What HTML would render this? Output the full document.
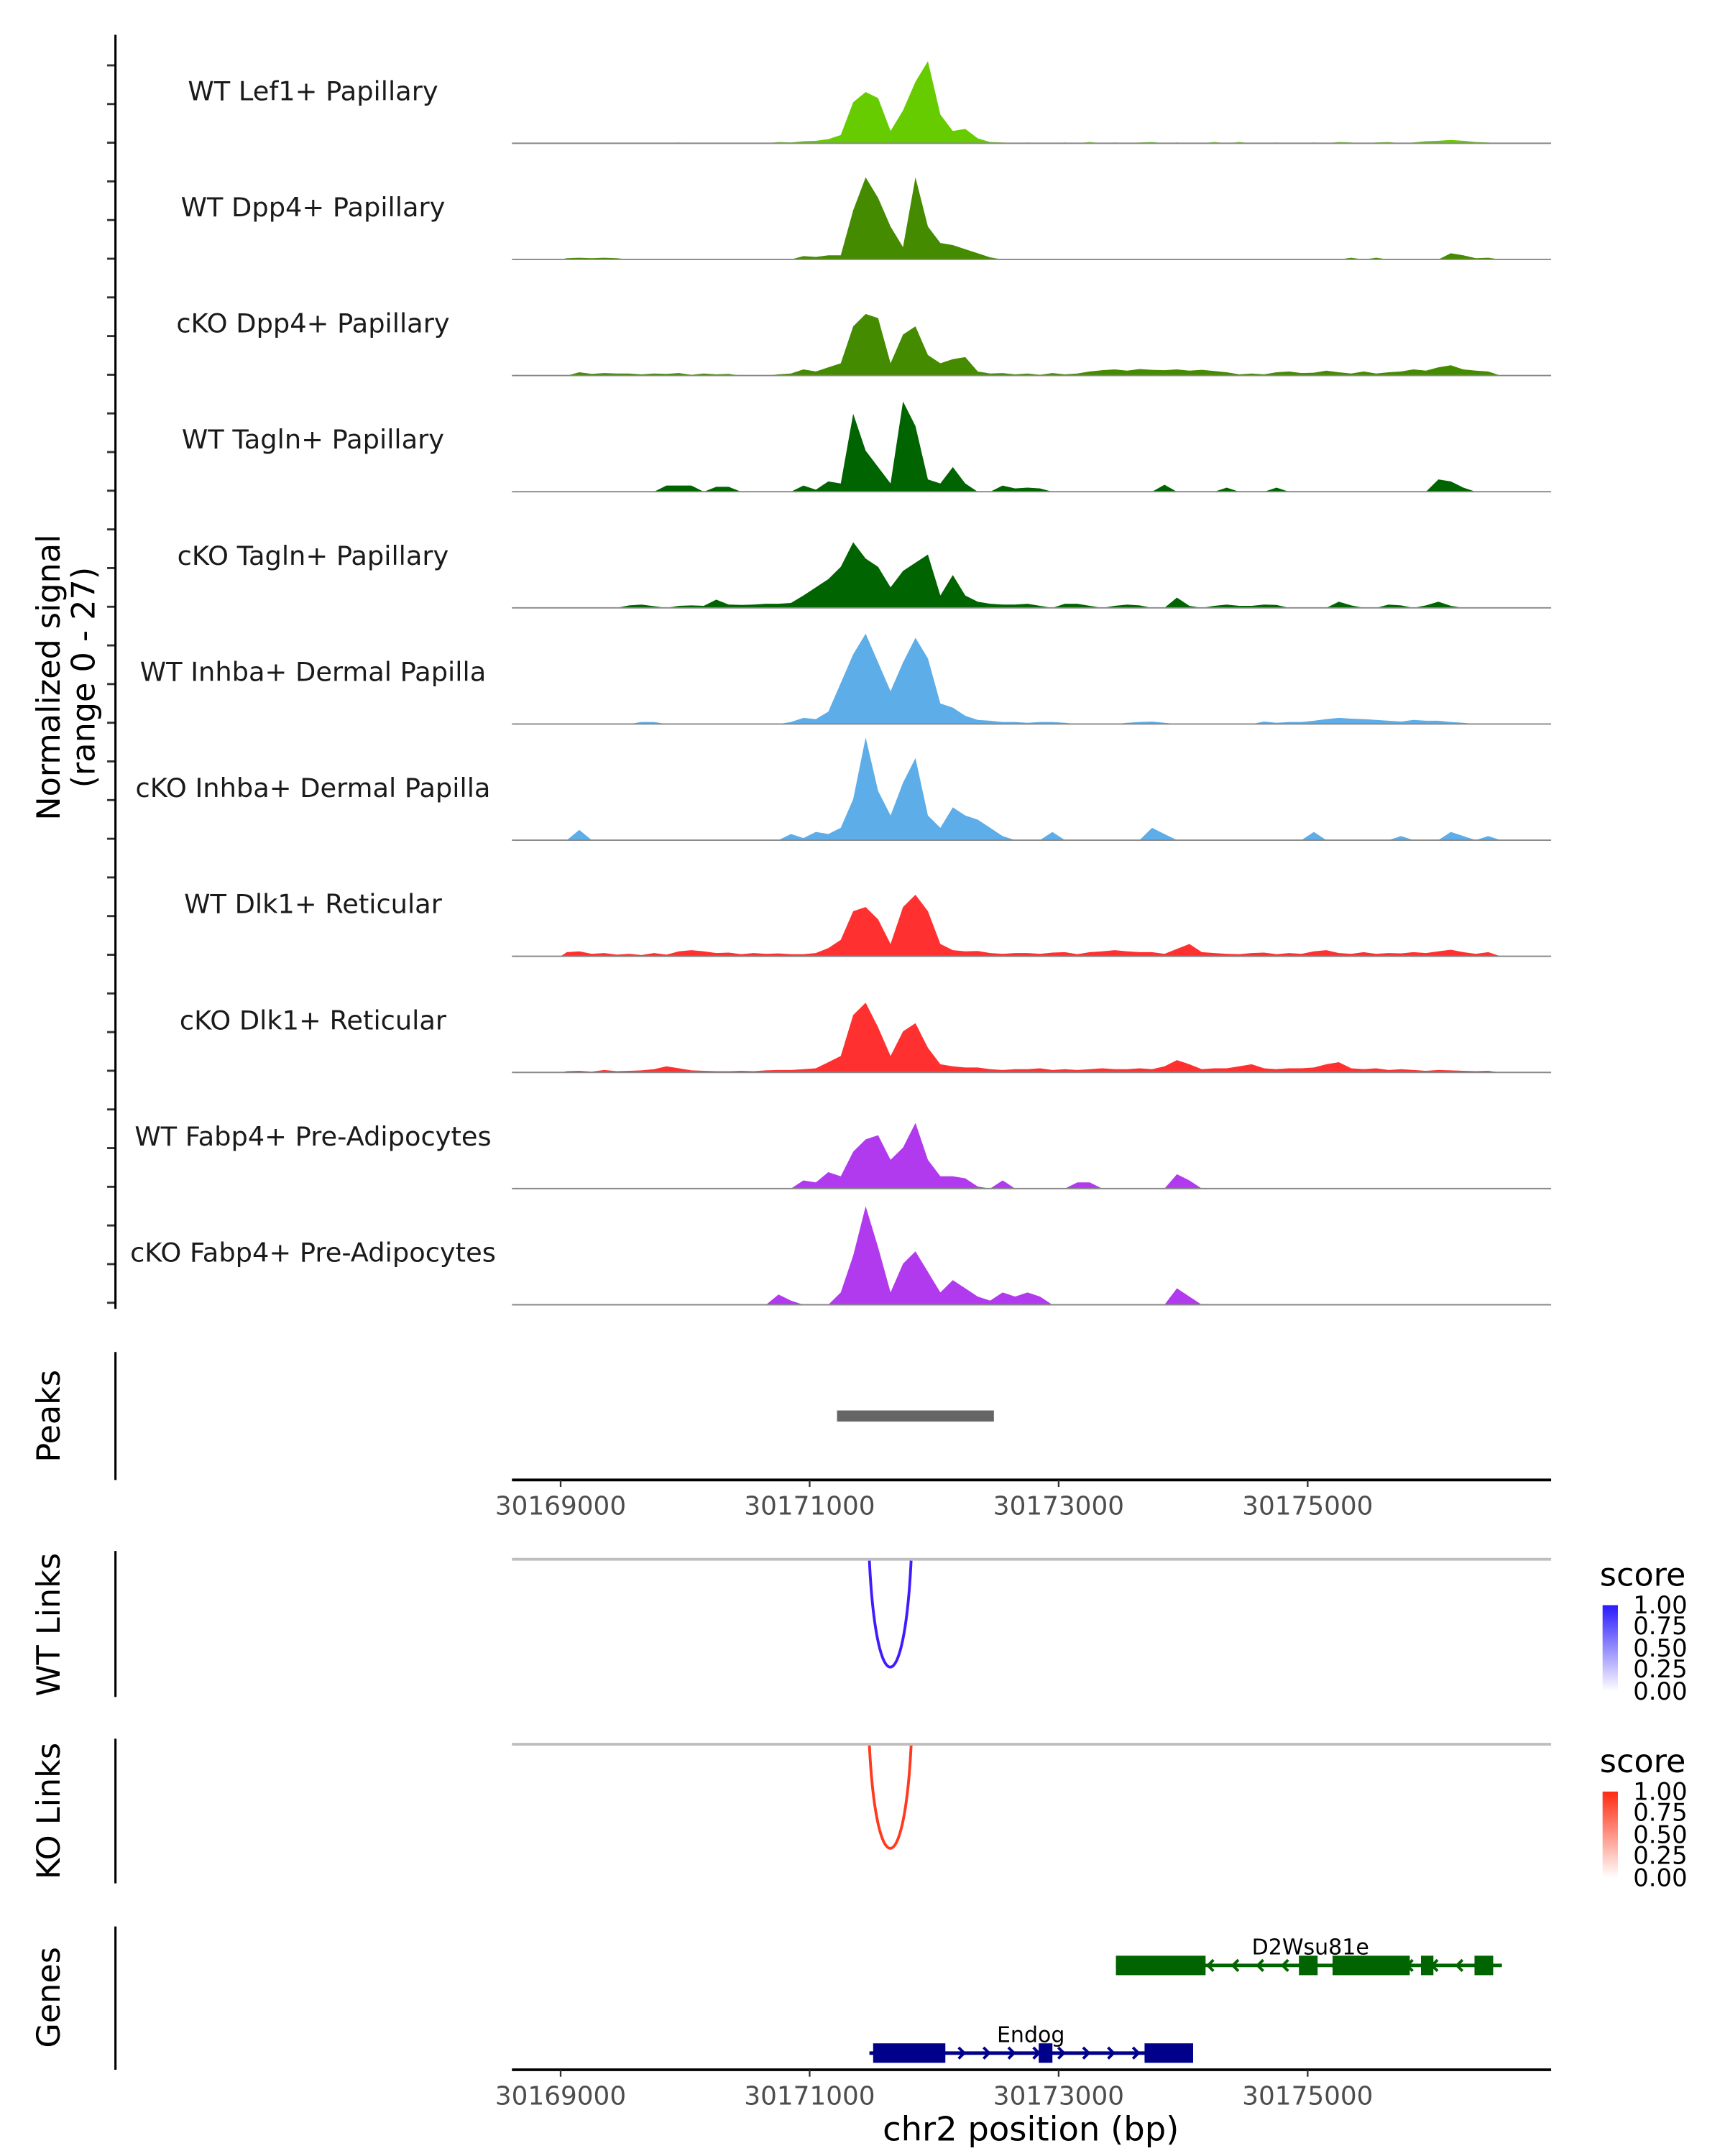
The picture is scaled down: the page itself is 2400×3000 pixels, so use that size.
<!DOCTYPE html>
<html><head><meta charset="utf-8"><style>
html,body{margin:0;padding:0;background:#fff}
svg{display:block}
text{font-family:"DejaVu Sans","Liberation Sans",sans-serif}
</style></head><body>
<svg id="chart" xmlns="http://www.w3.org/2000/svg" width="2400" height="3000" viewBox="0 0 1240 1550">
<g id="tracks"></g>
<g id="fixed">
  <line x1="83" y1="25" x2="83" y2="941" stroke="#000" stroke-width="1.6"/>
  <text transform="translate(43,487) rotate(-90)" text-anchor="middle" font-size="23" fill="#000">Normalized signal</text>
  <text transform="translate(68,487) rotate(-90)" text-anchor="middle" font-size="23" fill="#000">(range 0 - 27)</text>
  <line x1="83" y1="972" x2="83" y2="1064" stroke="#000" stroke-width="1.6"/>
  <text transform="translate(43,1018) rotate(-90)" text-anchor="middle" font-size="23">Peaks</text>
  <line x1="83" y1="1115" x2="83" y2="1220" stroke="#000" stroke-width="1.6"/>
  <text transform="translate(43,1168) rotate(-90)" text-anchor="middle" font-size="23">WT Links</text>
  <line x1="83" y1="1250" x2="83" y2="1354" stroke="#000" stroke-width="1.6"/>
  <text transform="translate(43,1302) rotate(-90)" text-anchor="middle" font-size="23">KO Links</text>
  <line x1="83" y1="1385" x2="83" y2="1488" stroke="#000" stroke-width="1.6"/>
  <text transform="translate(43,1436) rotate(-90)" text-anchor="middle" font-size="23">Genes</text>
  <line x1="368" y1="1121" x2="1115" y2="1121" stroke="#bebebe" stroke-width="2"/>
  <line x1="368" y1="1254" x2="1115" y2="1254" stroke="#bebebe" stroke-width="2"/>
  <text x="1150" y="1140" font-size="23">score</text>
  <text x="1150" y="1274" font-size="23">score</text>
  <defs>
    <linearGradient id="gb" x1="0" y1="1" x2="0" y2="0"><stop offset="0" stop-color="#fff"/><stop offset="1" stop-color="#2a1aff"/></linearGradient>
    <linearGradient id="gr" x1="0" y1="1" x2="0" y2="0"><stop offset="0" stop-color="#fff"/><stop offset="1" stop-color="#ff2a10"/></linearGradient>
  </defs>
  <rect x="1152" y="1154" width="11" height="62" fill="url(#gb)"/>
  <rect x="1152" y="1288" width="11" height="62" fill="url(#gr)"/>
  <g font-size="17.5" fill="#000">
    <text x="1174" y="1160">1.00</text><text x="1174" y="1175">0.75</text><text x="1174" y="1191">0.50</text><text x="1174" y="1206">0.25</text><text x="1174" y="1222">0.00</text>
  </g>
  <g font-size="17.5" fill="#000">
    <text x="1174" y="1294">1.00</text><text x="1174" y="1309">0.75</text><text x="1174" y="1325">0.50</text><text x="1174" y="1340">0.25</text><text x="1174" y="1356">0.00</text>
  </g>
  <text x="741" y="1539" text-anchor="middle" font-size="24">chr2 position (bp)</text>
</g>
<g id="dyn"></g>
</svg>
<script>
const binStart = 30169000;
const binSize = 100;
const trackNames = ["WT Lef1+ Papillary","WT Dpp4+ Papillary","cKO Dpp4+ Papillary","WT Tagln+ Papillary","cKO Tagln+ Papillary","WT Inhba+ Dermal Papilla","cKO Inhba+ Dermal Papilla","WT Dlk1+ Reticular","cKO Dlk1+ Reticular","WT Fabp4+ Pre-Adipocytes","cKO Fabp4+ Pre-Adipocytes"];
const trackColors = ["#66cc00","#458b00","#458b00","#006400","#006400","#5dade9","#5dade9","#ff3030","#ff3030","#b23aee","#b23aee"];
const sigLefWT = [0,0,0,0,0,0,0,0,0,0.2,0,0,0,0,0,0,0,0.3,0.2,0.5,0.6,1,2,10,12.5,11,3,8,15,20,7,3,3.5,1.2,0.3,0.2,0,0.2,0,0,0.2,0,0.3,0,0.2,0,0.2,0.3,0,0.2,0,0,0.3,0,0.3,0,0,0.2,0,0,0.2,0,0.3,0.2,0,0.2,0.3,0,0.2,0.5,0.6,0.8,0.6,0.3,0.2,0];
const sigDppWT = [0.3,0.4,0.3,0.4,0.3,0,0,0,0,0,0,0,0,0,0,0,0,0,0,0.8,0.6,1,1,12,20,15,8,3,20,8,4,3.5,2.5,1.5,0.5,0,0,0,0,0,0,0,0,0,0,0,0,0,0,0,0,0,0,0,0,0,0,0,0,0,0,0,0,0.4,0,0.4,0,0,0,0,0,1.5,1,0.3,0.4,0];
const sigDppKO = [0,0.8,0.4,0.6,0.5,0.5,0.3,0.5,0.4,0.6,0.2,0.5,0.3,0.4,0,0,0,0.3,0.5,1.5,1,2,3,12,15,14,3,10,12,5,3,4,4.5,1,0.5,0.6,0.3,0.5,0.2,0.6,0.3,0.5,1,1.3,1.5,1.2,1.6,1.4,1.3,1.5,1.2,1.4,1.1,0.8,0.3,0.5,0.3,0.8,1,0.6,0.7,1.2,0.8,0.5,1,0.5,0.8,1,1.5,1.2,2,2.5,1.5,1.2,1,0];
const sigTagWT = [0,0,0,0,0,0,0,0,1.5,1.5,1.5,0,1.2,1.2,0,0,0,0,0,1.5,0.5,2.5,2,19,10,6,2,22,16,3,2,6,2,0,0,1.5,0.8,1,0.8,0,0,0,0,0,0,0,0,0,1.7,0,0,0,0,1,0,0,0,1,0,0,0,0,0,0,0,0,0,0,0,0,3,2.5,1,0,0,0];
const sigTagKO = [0,0,0,0,0,0.6,0.8,0.4,0,0.5,0.6,0.5,2,0.8,0.7,0.8,1,1,1.2,3,5,7,10,16,12,10,5,9,11,13,3,8,3,1.5,1,0.8,0.8,1,0.5,0,1,1,0.5,0,0.5,0.8,0.6,0,0,2.5,0.5,0,0.5,0.8,0.5,0.5,0.8,0.7,0,0,0,0,1.5,0.6,0,0,0.8,0.6,0,0.6,1.5,0.5,0,0,0,0];
const sigInhWT = [0,0,0,0,0,0,0.5,0.5,0,0,0,0,0,0,0,0,0,0,0.5,1.5,1.2,3,10,17,22,15,8,15,21,16,5,4,2,1,0.8,0.5,0.5,0.3,0.5,0.5,0.3,0,0,0,0,0.3,0.5,0.6,0.3,0,0,0,0,0,0,0,0.6,0.3,0.5,0.5,0.8,1.2,1.5,1.3,1.2,1,0.8,0.6,1,0.8,0.8,0.5,0.3,0,0,0];
const sigInhKO = [0,2.5,0,0,0,0,0,0,0,0,0,0,0,0,0,0,0,0,1.5,0.5,2,1.5,3,10,25,12,6,14,20,6,3,8,6,5,3,1,0,0,0,2,0,0,0,0,0,0,0,3,1.5,0,0,0,0,0,0,0,0,0,0,0,2,0,0,0,0,0,0,1,0,0,0,2,1,0,1,0];
const sigDlkWT = [1,1.2,0.6,0.8,0.4,0.6,0.3,0.8,0.4,1.2,1.5,1.2,0.8,0.9,0.5,0.8,0.6,0.7,0.5,0.5,0.8,2,4,11,12,9,3,12,15,11,3,1.5,1.2,1.3,0.8,0.6,0.8,0.8,0.6,0.9,1,0.5,1,1.2,1.5,1.2,1,1,0.6,1.8,3,1,0.8,0.6,0.5,0.8,0.9,0.5,0.8,0.6,1.2,1.5,0.8,0.6,1,0.6,0.8,0.7,1,0.8,1.2,1.6,1,0.6,1,0];
const sigDlkKO = [0.3,0.4,0.2,0.6,0.3,0.4,0.5,0.8,1.5,1,0.5,0.4,0.3,0.3,0.4,0.3,0.5,0.6,0.6,0.8,1,2.5,4,14,17,11,4,10,12,6,2,1.5,1.2,1.2,0.8,0.6,0.8,0.8,1,0.6,0.8,0.6,0.8,1,0.8,0.8,1,0.8,1.5,3,2,0.8,1,1,1.5,2,1,0.8,1,1,1.2,2,2.5,1,0.8,1,0.6,0.8,0.6,0.4,0.6,0.5,0.4,0.3,0.4,0];
const sigFabWT = [0,0,0,0,0,0,0,0,0,0,0,0,0,0,0,0,0,0,0,2,1.5,4,3,9,12,13,7,10,16,7,3,3,2.5,0.5,0,2,0,0,0,0,0,1.5,1.5,0,0,0,0,0,0,3.5,2,0,0,0,0,0,0,0,0,0,0,0,0,0,0,0,0,0,0,0,0,0,0,0,0,0];
const sigFabKO = [0,0,0,0,0,0,0,0,0,0,0,0,0,0,0,0,0,2.5,1,0,0,0,3,12,24,14,3,10,13,8,3,6,4,2,1,3,2,3,2,0,0,0,0,0,0,0,0,0,0,4,2,0,0,0,0,0,0,0,0,0,0,0,0,0,0,0,0,0,0,0,0,0,0,0,0,0];
const tracks = [sigLefWT,sigDppWT,sigDppKO,sigTagWT,sigTagKO,sigInhWT,sigInhKO,sigDlkWT,sigDlkKO,sigFabWT,sigFabKO];
const xTicks = [30169000,30171000,30173000,30175000];
const peakRegions = [[30171220,30172480]];
const wtLinks = [[30171480,30171815,1.0]];
const koLinks = [[30171480,30171815,0.95]];
const geneD2Exons = [[30173460,30174180],[30174930,30175080],[30175200,30175820],[30175910,30176010],[30176340,30176490]];
const geneD2Span = [30173460,30176560];
const geneEndogExons = [[30171510,30172090],[30172840,30172950],[30173690,30174080]];
const geneEndogSpan = [30171480,30174080];

const NS="http://www.w3.org/2000/svg";
const x0=368,x1=1115;
function xs(bp){return 582+(bp-30171000)*0.0895;}
const baseY0=103, trackStep=83.5, yScale=2.95;
function ys(v,i){return baseY0+i*trackStep - v*yScale;}
const tg=document.getElementById('tracks');
const dg=document.getElementById('dyn');
function mk(tag,attrs,parent){const e=document.createElementNS(NS,tag);for(const k in attrs)e.setAttribute(k,attrs[k]);parent.appendChild(e);return e;}

for(let t=0;t<34;t++){
  const y=47+t*27.8;
  if(y>941)break;
  const l=mk('line',{x1:77,x2:83,y1:y,y2:y,stroke:'#333','stroke-width':1.5},tg);
  
  
}
tracks.forEach((arr,i)=>{
  const base=ys(0,i);
  let d='M'+xs(binStart)+','+base;
  arr.forEach((v,j)=>{
    const c=xs(binStart+(j+0.5)*binSize);
    d+=' L'+c+','+ys(v,i);
  });
  d+=' L'+xs(binStart+arr.length*binSize)+','+base+' Z';
  const p=mk('path',{d:d,fill:trackColors[i],stroke:'none'},tg);
  
  
  const bl=mk('line',{x1:x0,x2:x1,y1:base,y2:base,stroke:'#888','stroke-width':1},tg);
  
  
  const t=mk('text',{x:225,y:base-31,'text-anchor':'middle','font-size':'19',fill:'#1a1a1a'},tg);
  t.textContent=trackNames[i];
  
  
});
peakRegions.forEach(r=>{
  const e=mk('rect',{x:xs(r[0]),y:1014,width:xs(r[1])-xs(r[0]),height:8,fill:'#666'},dg);
  
  
});
function xaxis(y){
  const l=mk('line',{x1:x0,x2:x1,y1:y,y2:y,stroke:'#000','stroke-width':2},dg);
  
  
  xTicks.forEach(v=>{
    const t=mk('line',{x1:xs(v),x2:xs(v),y1:y,y2:y+5,stroke:'#333','stroke-width':1.2},dg);
    
    
    const tx=mk('text',{x:xs(v),y:y+25,'text-anchor':'middle','font-size':'18.5',fill:'#4d4d4d'},dg);
    tx.textContent=v;
    
    
  });
}
xaxis(1064);xaxis(1488);
function arcs(list,top,depth,col){
  list.forEach(a=>{
    const xa=xs(a[0]),xb=xs(a[1]),bot=top+depth*a[2];
    const d='M'+xa+','+top+' C'+(xa+5)+','+(bot+30)+' '+(xb-5)+','+(bot+30)+' '+xb+','+top;
    const p=mk('path',{d:d,fill:'none',stroke:col,'stroke-width':2},dg);
    
    
  });
}
arcs(wtLinks,1122,72,'#3f1cff');
arcs(koLinks,1255,72,'#ff3a1e');
function gene(span,exons,y,col,name,lx,dir){
  const l=mk('line',{x1:xs(span[0]),x2:xs(span[1]),y1:y,y2:y,stroke:col,'stroke-width':2.5},dg);
  
  
  for(let bp=span[0]+150;bp<span[1]-100;bp+=200){
    const x=xs(bp);
    const d=dir>0?('M'+(x-3)+','+(y-4)+' L'+(x+1)+','+y+' L'+(x-3)+','+(y+4)):('M'+(x+3)+','+(y-4)+' L'+(x-1)+','+y+' L'+(x+3)+','+(y+4));
    const ar=mk('path',{d:d,fill:'none',stroke:col,'stroke-width':2},dg);
    
    
  }
  exons.forEach(e=>{
    const r=mk('rect',{x:xs(e[0]),y:y-7,width:xs(e[1])-xs(e[0]),height:14,fill:col},dg);
    
    
  });
  const t=mk('text',{x:lx,y:y-8,'text-anchor':'middle','font-size':'15.5',fill:'#000'},dg);
  t.textContent=name;
  
  
}
gene(geneD2Span,geneD2Exons,1413,'#006400','D2Wsu81e',942,-1);
gene(geneEndogSpan,geneEndogExons,1476,'#00008b','Endog',741,1);
</script>
</body></html>
